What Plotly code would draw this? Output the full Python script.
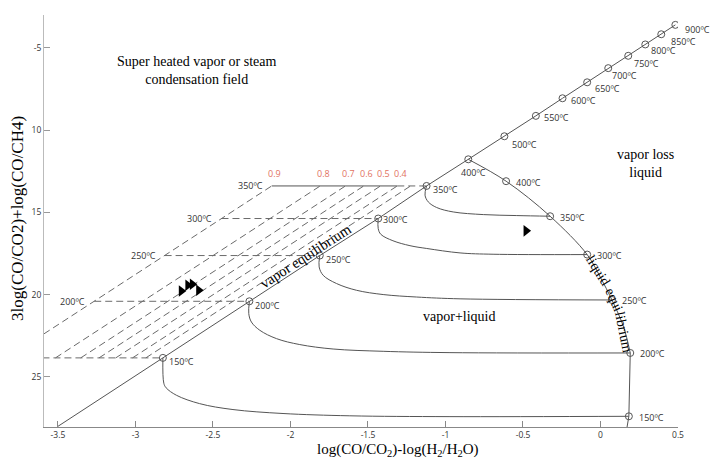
import plotly.graph_objects as go

# ---------------- data ----------------
x_ticks = [-3.5, -3, -2.5, -2, -1.5, -1, -0.5, 0, 0.5]
x_tick_text = ["-3.5", "-3", "-2.5", "-2", "-1.5", "-1", "-0.5", "0", "0.5"]
y_ticks = [5, 10, 15, 20, 25]
y_tick_text = ["-5", "10", "15", "20", "25"]

# vapor equilibrium line (points with temperature labels)
vapor_T = [150, 200, 250, 300, 350, 400, 500, 550, 600, 650, 700, 750, 800, 850, 900]
vapor_x = [-2.823, -2.265, -1.811, -1.434, -1.122, -0.853, -0.620, -0.417, -0.245,
           -0.086, 0.050, 0.179, 0.289, 0.392, 0.483]
vapor_y = [23.84, 20.40, 17.62, 15.37, 13.39, 11.77, 10.37, 9.13, 8.06,
           7.09, 6.23, 5.48, 4.79, 4.17, 3.60]
vapor_start_x = [-3.5]
vapor_start_y = [28.0]

# liquid equilibrium points
liquid_T = [400, 350, 300, 250, 200, 150]
liquid_x = [-0.609, -0.325, -0.086, 0.074, 0.192, 0.183]
liquid_y = [13.10, 15.23, 17.56, 20.32, 23.54, 27.39]

# liquid equilibrium curve (traced)
liq_curve_x = [-0.853, -0.609, -0.325, -0.086, -0.002, 0.074, 0.149, 0.192]
liq_curve_y = [11.77, 13.10, 15.23, 17.56, 18.92, 20.32, 21.96, 23.54]
liq_tail_x = [0.192, 0.183, 0.171]
liq_tail_y = [23.54, 27.39, 28.06]

# isotherm curves in the vapor+liquid field (traced)
iso150_x = [-2.823, -2.817, -2.802, -2.736, -2.586, -2.371, -2.048, -1.617, -0.971, 0.183]
iso150_y = [23.84, 25.38, 25.66, 26.11, 26.62, 26.98, 27.22, 27.36, 27.41, 27.39]
iso200_x = [-2.265, -2.269, -2.252, -2.198, -2.090, -1.940, -1.725, -1.402, -0.971, 0.192]
iso200_y = [20.40, 21.15, 21.66, 22.16, 22.67, 23.03, 23.30, 23.44, 23.52, 23.54]
iso250_x = [-1.811, -1.815, -1.789, -1.703, -1.574, -1.402, -1.186, -0.906, 0.074]
iso250_y = [17.62, 18.31, 18.82, 19.32, 19.73, 19.99, 20.14, 20.25, 20.32]
iso300_x = [-1.434, -1.434, -1.417, -1.339, -1.229, -1.121, -0.906, -0.693, -0.086]
iso300_y = [15.37, 15.98, 16.33, 16.72, 17.02, 17.19, 17.46, 17.54, 17.56]
iso350_x = [-1.122, -1.132, -1.111, -1.057, -0.950, -0.756, -0.540, -0.325]
iso350_y = [13.39, 13.95, 14.36, 14.70, 14.97, 15.13, 15.19, 15.23]

# dashed fraction lines (0.9 ... 0.4 and one unlabeled)
frac_labels = ["0.9", "0.8", "0.7", "0.6", "0.5", "0.4", ""]
frac_x_top = [-2.121, -1.808, -1.645, -1.527, -1.419, -1.311, -1.225]
frac_x_bottom = [-3.829, -3.516, -3.353, -3.235, -3.127, -3.019, -2.933]
frac_y_top = 13.39
frac_y_bottom = 23.84

# horizontal dashed isotherms left of the vapor line
hiso_T = [150, 200, 250, 300]
hiso_x_left = [-3.60, -3.266, -2.812, -2.445]
hiso_x_right = [-2.823, -2.265, -1.811, -1.434]
hiso_y = [23.84, 20.40, 17.62, 15.37]
h350_solid_x = [-2.121, -1.311]
h350_dash_x = [-1.311, -1.122]
h350_y = [13.39, 13.39]

# samples (black triangles)
sample_x = [-2.704, -2.662, -2.633, -2.592, -0.480]
sample_y = [19.77, 19.43, 19.37, 19.73, 16.12]

# ---------------- styles ----------------
LINE = "#555555"
DASH = "#6a6a6a"
RED = "#e2735f"
SERIF = "Liberation Serif, Times New Roman, serif"
SANS = "Liberation Sans Narrow, Open Sans, sans-serif"

fig = go.Figure()

def add_line(x, y, color=LINE, dash=None, shape="linear", width=1):
    fig.add_trace(go.Scatter(x=x, y=y, mode="lines",
                             line=dict(color=color, width=width, dash=dash, shape=shape,
                                       smoothing=1.0 if shape == "spline" else None),
                             hoverinfo="skip"))

# dashed fraction lines
for xb, xt in zip(frac_x_bottom, frac_x_top):
    add_line([xb, xt], [frac_y_bottom, frac_y_top], color=DASH, dash="7px,4px")

# horizontal dashed isotherms
for xl, xr, yy in zip(hiso_x_left, hiso_x_right, hiso_y):
    add_line([xl, xr], [yy, yy], color=DASH, dash="7px,4px")
add_line(h350_dash_x, h350_y, color=DASH, dash="7px,4px")
add_line(h350_solid_x, h350_y, color=LINE)

# vapor equilibrium line
add_line(vapor_start_x + vapor_x, vapor_start_y + vapor_y)

# liquid equilibrium curve
add_line(liq_curve_x, liq_curve_y, shape="spline")
add_line(liq_tail_x, liq_tail_y)

# isotherms
for xs, ys in [(iso150_x, iso150_y), (iso200_x, iso200_y), (iso250_x, iso250_y),
               (iso300_x, iso300_y), (iso350_x, iso350_y)]:
    add_line(xs, ys, shape="spline")

# circles
fig.add_trace(go.Scatter(x=vapor_x + liquid_x, y=vapor_y + liquid_y, mode="markers",
                         marker=dict(symbol="circle-open", size=7, color=LINE,
                                     line=dict(width=1, color=LINE)),
                         hoverinfo="skip"))

# samples
fig.add_trace(go.Scatter(x=sample_x, y=sample_y, mode="markers",
                         marker=dict(symbol="triangle-right", size=10, color="black"),
                         hoverinfo="skip"))

ann = []
tfont = dict(family=SANS, size=9, color="#333333")

# vapor-line temperature labels
vapor_off = {400: (-9, 13), 500: (6, 8), 650: (6, 6), 700: (2, 7), 750: (4, 8),
             800: (4, 6), 850: (8, 7), 900: (8, 5), 300: (3, 1), 550: (6, 2), 600: (6, 2)}
for T, x, y in zip(vapor_T, vapor_x, vapor_y):
    dx, dy = vapor_off.get(T, (4, 4))
    ann.append(dict(x=x, y=y, text=f"{T}ºC", showarrow=False, xanchor="left",
                    yanchor="middle", xshift=dx, yshift=-dy, font=tfont))

# liquid-line temperature labels
for T, x, y in zip(liquid_T, liquid_x, liquid_y):
    ann.append(dict(x=x, y=y, text=f"{T}ºC", showarrow=False, xanchor="left",
                    yanchor="middle", xshift=8, yshift=-1, font=tfont))

# left temperature labels on the 0.9 line
for T, x, y in zip(hiso_T[1:] + [350], hiso_x_left[1:] + [h350_solid_x[0]], hiso_y[1:] + [h350_y[0]]):
    ann.append(dict(x=x, y=y, text=f"{T}ºC", showarrow=False, xanchor="right",
                    yanchor="middle", xshift=-7, font=tfont))

# fraction labels
for lab, x in zip(frac_labels, frac_x_top):
    if lab:
        ann.append(dict(x=x, y=frac_y_top, text=lab, showarrow=False, xanchor="center",
                        yanchor="middle", xshift=3, yshift=12,
                        font=dict(family=SANS, size=9, color=RED)))

sfont = dict(family=SERIF, size=14, color="black")
ann += [
    dict(x=-2.605, y=6.36, text="Super heated vapor or steam<br>condensation field",
         showarrow=False, font=sfont, align="center"),
    dict(x=0.288, y=12.04, text="vapor loss<br>liquid", showarrow=False, font=sfont,
         align="center"),
    dict(x=-0.913, y=21.31, text="vapor+liquid", showarrow=False, font=sfont),
    dict(x=-1.901, y=17.66, text="vapor equilibrium", showarrow=False,
         font=dict(family=SERIF, size=14.6, color="black"), textangle=-33),
    dict(x=-0.015, y=18.51, text="liquid", showarrow=False,
         font=dict(family=SERIF, size=14, color="black"), textangle=58),
    dict(x=0.086, y=20.30, text="equi", showarrow=False,
         font=dict(family=SERIF, size=14, color="black"), textangle=66),
    dict(x=0.150, y=22.28, text="librium", showarrow=False,
         font=dict(family=SERIF, size=14, color="black"), textangle=79),
    # axis titles
    dict(xref="paper", yref="paper", x=0.558, y=0, yshift=-23, yanchor="middle",
         text="log(CO/CO<sub>2</sub>)-log(H<sub>2</sub>/H<sub>2</sub>O)", showarrow=False,
         font=dict(family=SERIF, size=15, color="black")),
    dict(xref="paper", yref="paper", x=0, y=0.505, xshift=-26, xanchor="center",
         text="3log(CO/CO2)+log(CO/CH4)", showarrow=False, textangle=-90,
         font=dict(family=SERIF, size=17, color="black")),
]

fig.update_layout(
    width=713, height=458,
    margin=dict(l=44, r=35, t=15, b=31),
    paper_bgcolor="white", plot_bgcolor="white",
    showlegend=False,
    annotations=ann,
    xaxis=dict(range=[-3.59, 0.5], tickvals=x_ticks, ticktext=x_tick_text,
               showgrid=False, zeroline=False, showline=True, linecolor="#888888",
               linewidth=1, ticks="inside", ticklen=6, tickcolor="#888888",
               tickfont=dict(family=SANS, size=8.5, color="#333333")),
    yaxis=dict(range=[28.04, 3.0], tickvals=y_ticks, ticktext=y_tick_text,
               showgrid=False, zeroline=False, showline=True, linecolor="#bbbbbb",
               linewidth=1, ticks="inside", ticklen=6, tickcolor="#999999",
               tickfont=dict(family=SANS, size=8.5, color="#333333")),
)

fig.write_html("out.html")
